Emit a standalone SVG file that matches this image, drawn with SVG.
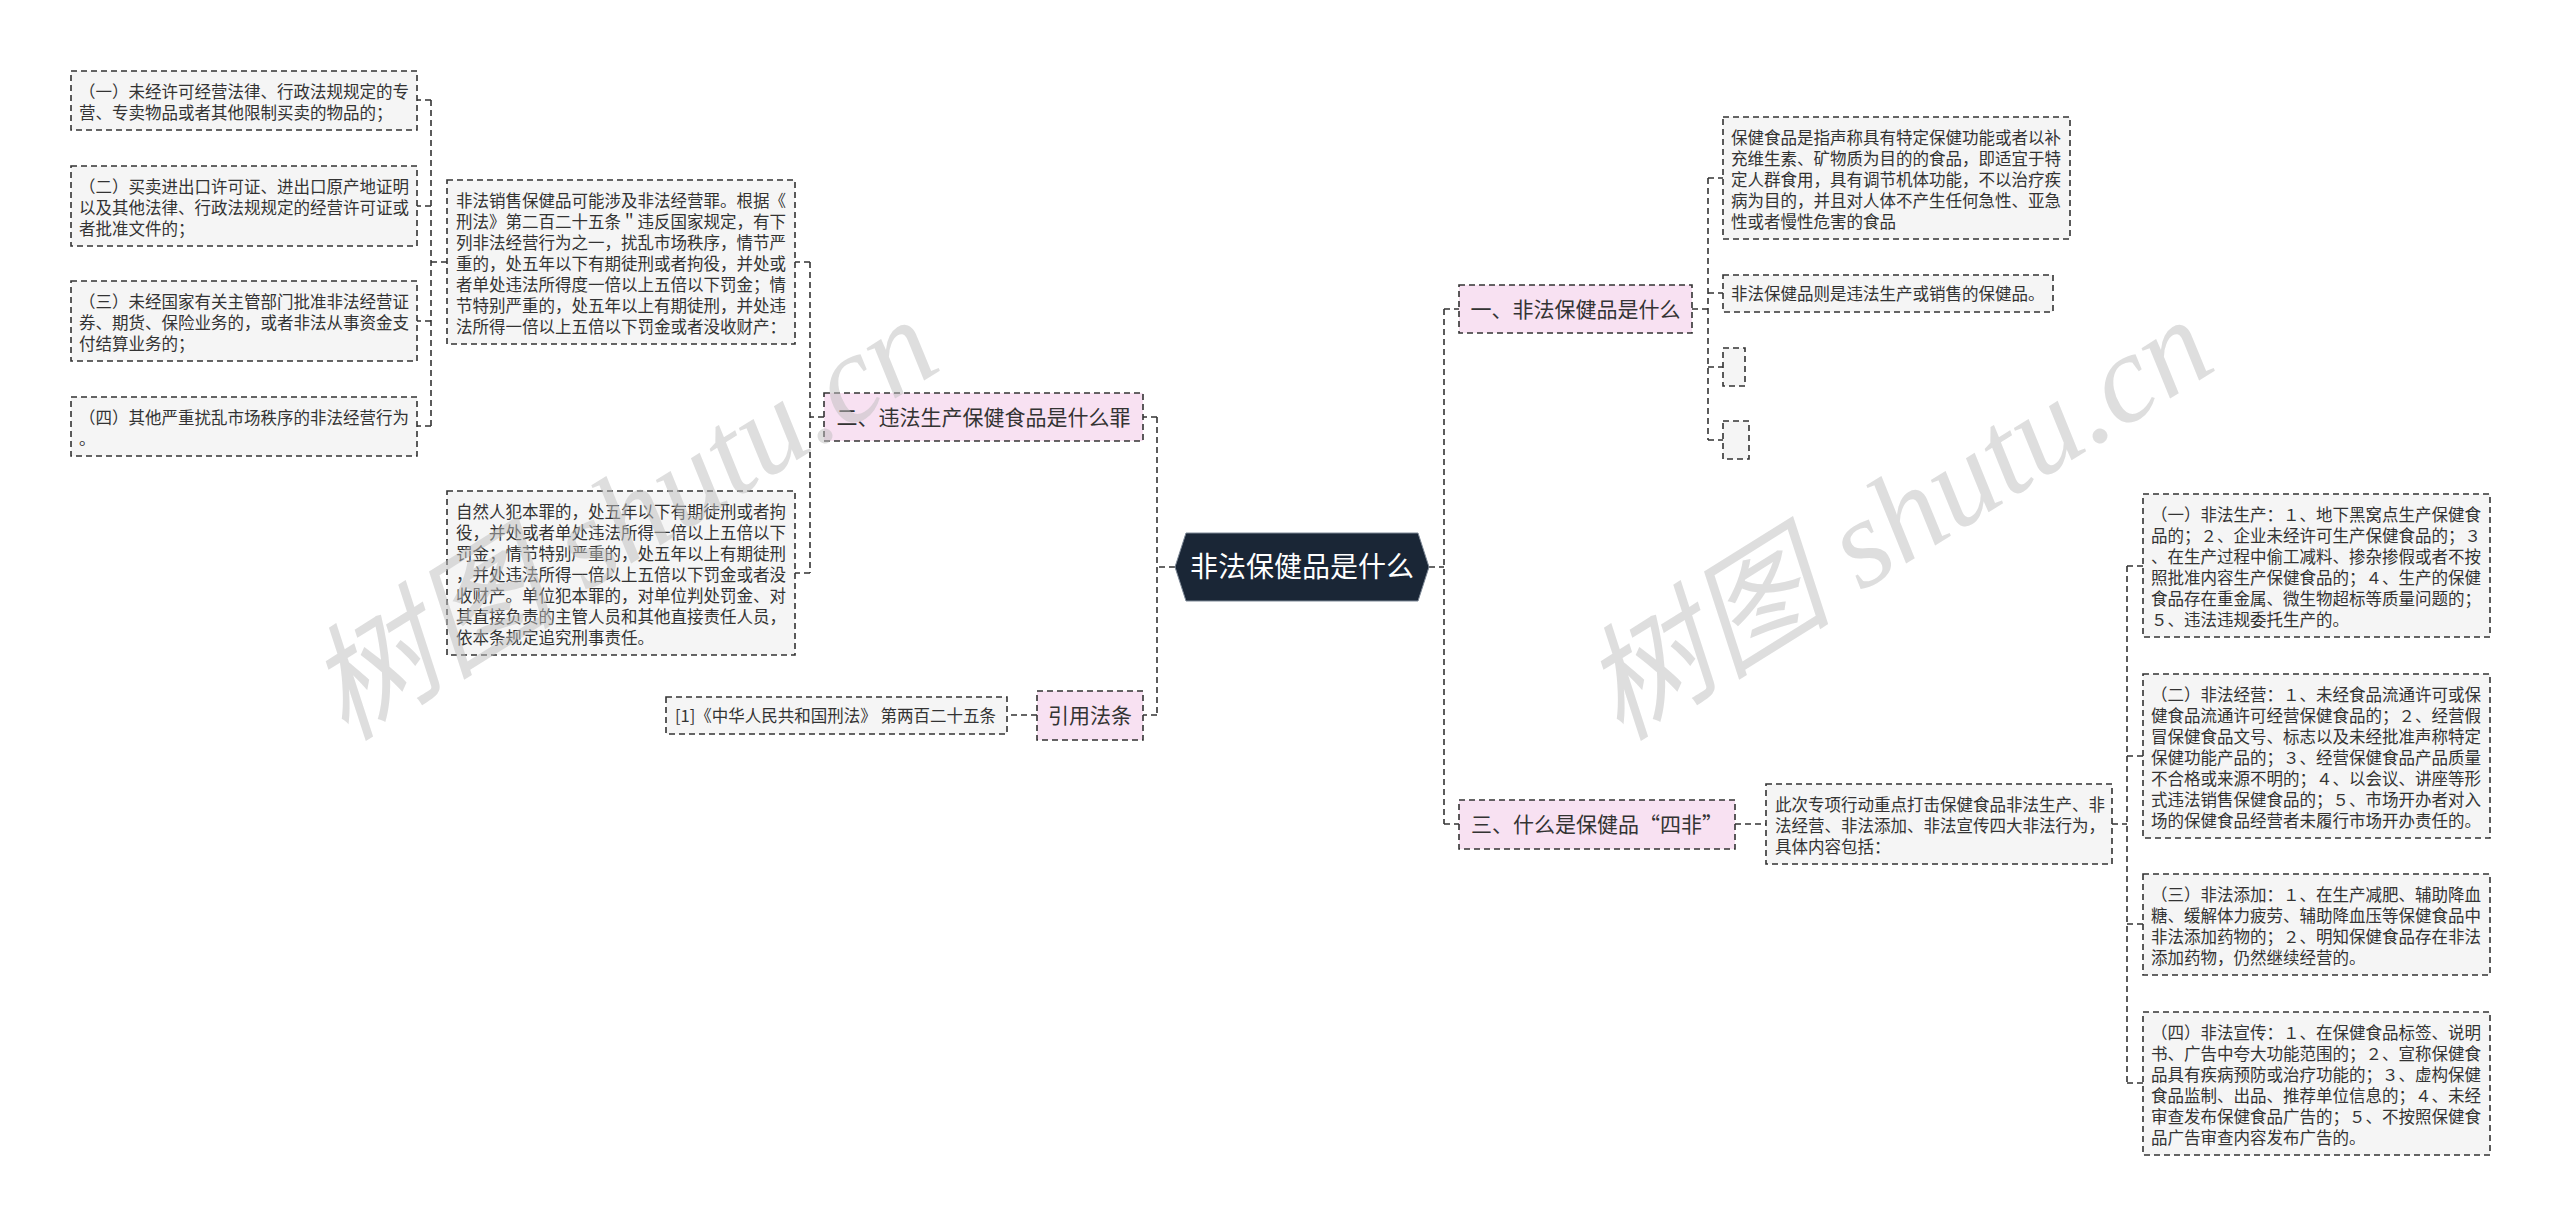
<svg xmlns="http://www.w3.org/2000/svg" width="2560" height="1225" viewBox="0 0 2560 1225">
<style>
.bg{fill:#ffffff}
.box{fill:#f5f5f5;stroke:#333333;stroke-width:1.6;stroke-dasharray:6 4}
.pink{fill:#f8e1f2;stroke:#333333;stroke-width:1.6;stroke-dasharray:6 4}
.t{font-family:"Noto Sans CJK SC","Noto Sans",sans-serif;font-size:16.5px;fill:#333333}
.b{font-family:"Noto Sans CJK SC","Noto Sans",sans-serif;font-size:21px;fill:#333333;text-anchor:middle}
.c{font-family:"Noto Sans CJK SC","Noto Sans",sans-serif;font-size:28px;fill:#ffffff;text-anchor:middle}
.con{fill:none;stroke:#333333;stroke-width:1.6;stroke-dasharray:6 4}
.wm{font-family:"Liberation Serif","Noto Sans CJK SC",serif;font-style:italic;font-size:126px;fill:#bdbdbd;fill-opacity:0.5;text-anchor:middle}
</style>
<rect class="bg" x="0" y="0" width="2560" height="1225"/>

<g id="connectors">
  <path class="con" d="M1175 567 H1157 M1157 417 V716 M1157 417 H1143 M1157 715 H1143"/>
  <path class="con" d="M824 417 H810 M810 262 V573 M810 262 H795 M810 573 H795"/>
  <path class="con" d="M447 262 H431 M431 100 V426 M431 100 H417 M431 206 H417 M431 321 H417 M431 426 H417"/>
  <path class="con" d="M1037 715 H1007"/>
  <path class="con" d="M1429 567 H1444 M1444 309 V824 M1444 309 H1459 M1444 824 H1459"/>
  <path class="con" d="M1692 309 H1708 M1708 178 V440 M1708 178 H1723 M1708 293 H1723 M1708 367 H1723 M1708 440 H1723"/>
  <path class="con" d="M1735 824 H1766"/>
  <path class="con" d="M2112 824 H2127 M2127 566 V1083 M2127 566 H2143 M2127 756 H2143 M2127 924 H2143 M2127 1083 H2143"/>
</g>

<g id="center">
  <polygon points="1175,567 1186,533 1418,533 1429,567 1418,601 1186,601" fill="#1a2636" stroke="#7d8896" stroke-width="1"/>
  <text class="c" x="1302" y="577">非法保健品是什么</text>
</g>

<g id="node-er">
  <rect class="pink" x="824" y="393" width="319" height="48"/>
  <text class="b" x="983.5" y="424.5">二、违法生产保健食品是什么罪</text>
</g>

<g id="node-yinyong">
  <rect class="pink" x="1037" y="691" width="106" height="49"/>
  <text class="b" x="1090" y="723">引用法条</text>
</g>

<g id="node-ref">
  <rect class="box" x="666" y="697" width="341" height="37"/>
  <text class="t" x="675" y="722">[1]《中华人民共和国刑法》 第两百二十五条</text>
</g>

<g id="node-feifa">
  <rect class="box" x="447" y="180" width="348" height="164"/>
  <text class="t">
    <tspan x="456" y="207">非法销售保健品可能涉及非法经营罪。根据《</tspan>
    <tspan x="456" y="228">刑法》第二百二十五条＂违反国家规定，有下</tspan>
    <tspan x="456" y="249">列非法经营行为之一，扰乱市场秩序，情节严</tspan>
    <tspan x="456" y="270">重的，处五年以下有期徒刑或者拘役，并处或</tspan>
    <tspan x="456" y="291">者单处违法所得度一倍以上五倍以下罚金；情</tspan>
    <tspan x="456" y="312">节特别严重的，处五年以上有期徒刑，并处违</tspan>
    <tspan x="456" y="333">法所得一倍以上五倍以下罚金或者没收财产：</tspan>
  </text>
</g>

<g id="node-ziran">
  <rect class="box" x="447" y="491" width="348" height="164"/>
  <text class="t">
    <tspan x="456" y="518">自然人犯本罪的，处五年以下有期徒刑或者拘</tspan>
    <tspan x="456" y="539">役，并处或者单处违法所得一倍以上五倍以下</tspan>
    <tspan x="456" y="560">罚金；情节特别严重的，处五年以上有期徒刑</tspan>
    <tspan x="456" y="581">，并处违法所得一倍以上五倍以下罚金或者没</tspan>
    <tspan x="456" y="602">收财产。单位犯本罪的，对单位判处罚金、对</tspan>
    <tspan x="456" y="623">其直接负责的主管人员和其他直接责任人员，</tspan>
    <tspan x="456" y="644">依本条规定追究刑事责任。</tspan>
  </text>
</g>

<g id="node-l1">
  <rect class="box" x="71" y="71" width="346" height="59"/>
  <text class="t">
    <tspan x="79" y="98">（一）未经许可经营法律、行政法规规定的专</tspan>
    <tspan x="79" y="119">营、专卖物品或者其他限制买卖的物品的；</tspan>
  </text>
</g>
<g id="node-l2">
  <rect class="box" x="71" y="166" width="346" height="80"/>
  <text class="t">
    <tspan x="79" y="193">（二）买卖进出口许可证、进出口原产地证明</tspan>
    <tspan x="79" y="214">以及其他法律、行政法规规定的经营许可证或</tspan>
    <tspan x="79" y="235">者批准文件的；</tspan>
  </text>
</g>
<g id="node-l3">
  <rect class="box" x="71" y="281" width="346" height="80"/>
  <text class="t">
    <tspan x="79" y="308">（三）未经国家有关主管部门批准非法经营证</tspan>
    <tspan x="79" y="329">券、期货、保险业务的，或者非法从事资金支</tspan>
    <tspan x="79" y="350">付结算业务的；</tspan>
  </text>
</g>
<g id="node-l4">
  <rect class="box" x="71" y="397" width="346" height="59"/>
  <text class="t">
    <tspan x="79" y="424">（四）其他严重扰乱市场秩序的非法经营行为</tspan>
    <tspan x="79" y="445">。</tspan>
  </text>
</g>

<g id="node-yi">
  <rect class="pink" x="1459" y="285" width="233" height="48"/>
  <text class="b" x="1575.5" y="316.5">一、非法保健品是什么</text>
</g>
<g id="node-baojian">
  <rect class="box" x="1723" y="117" width="347" height="122"/>
  <text class="t">
    <tspan x="1731" y="144">保健食品是指声称具有特定保健功能或者以补</tspan>
    <tspan x="1731" y="165">充维生素、矿物质为目的的食品，即适宜于特</tspan>
    <tspan x="1731" y="186">定人群食用，具有调节机体功能，不以治疗疾</tspan>
    <tspan x="1731" y="207">病为目的，并且对人体不产生任何急性、亚急</tspan>
    <tspan x="1731" y="228">性或者慢性危害的食品</tspan>
  </text>
</g>
<g id="node-zeshi">
  <rect class="box" x="1723" y="275" width="330" height="37"/>
  <text class="t" x="1731" y="300">非法保健品则是违法生产或销售的保健品。</text>
</g>
<g id="node-empty1">
  <rect class="box" x="1723" y="348" width="22" height="38"/>
</g>
<g id="node-empty2">
  <rect class="box" x="1723" y="421" width="26" height="38"/>
</g>

<g id="node-san">
  <rect class="pink" x="1459" y="800" width="276" height="49"/>
  <text class="b" x="1597" y="832">三、什么是保健品“四非”</text>
</g>
<g id="node-cici">
  <rect class="box" x="1766" y="784" width="346" height="80"/>
  <text class="t">
    <tspan x="1775" y="811">此次专项行动重点打击保健食品非法生产、非</tspan>
    <tspan x="1775" y="832">法经营、非法添加、非法宣传四大非法行为，</tspan>
    <tspan x="1775" y="853">具体内容包括：</tspan>
  </text>
</g>
<g id="node-r1">
  <rect class="box" x="2143" y="494" width="347" height="143"/>
  <text class="t">
    <tspan x="2151" y="521">（一）非法生产：１、地下黑窝点生产保健食</tspan>
    <tspan x="2151" y="542">品的；２、企业未经许可生产保健食品的；３</tspan>
    <tspan x="2151" y="563">、在生产过程中偷工减料、掺杂掺假或者不按</tspan>
    <tspan x="2151" y="584">照批准内容生产保健食品的；４、生产的保健</tspan>
    <tspan x="2151" y="605">食品存在重金属、微生物超标等质量问题的；</tspan>
    <tspan x="2151" y="626">５、违法违规委托生产的。</tspan>
  </text>
</g>
<g id="node-r2">
  <rect class="box" x="2143" y="674" width="347" height="164"/>
  <text class="t">
    <tspan x="2151" y="701">（二）非法经营：１、未经食品流通许可或保</tspan>
    <tspan x="2151" y="722">健食品流通许可经营保健食品的；２、经营假</tspan>
    <tspan x="2151" y="743">冒保健食品文号、标志以及未经批准声称特定</tspan>
    <tspan x="2151" y="764">保健功能产品的；３、经营保健食品产品质量</tspan>
    <tspan x="2151" y="785">不合格或来源不明的；４、以会议、讲座等形</tspan>
    <tspan x="2151" y="806">式违法销售保健食品的；５、市场开办者对入</tspan>
    <tspan x="2151" y="827">场的保健食品经营者未履行市场开办责任的。</tspan>
  </text>
</g>
<g id="node-r3">
  <rect class="box" x="2143" y="874" width="347" height="101"/>
  <text class="t">
    <tspan x="2151" y="901">（三）非法添加：１、在生产减肥、辅助降血</tspan>
    <tspan x="2151" y="922">糖、缓解体力疲劳、辅助降血压等保健食品中</tspan>
    <tspan x="2151" y="943">非法添加药物的；２、明知保健食品存在非法</tspan>
    <tspan x="2151" y="964">添加药物，仍然继续经营的。</tspan>
  </text>
</g>
<g id="node-r4">
  <rect class="box" x="2143" y="1012" width="347" height="143"/>
  <text class="t">
    <tspan x="2151" y="1039">（四）非法宣传：１、在保健食品标签、说明</tspan>
    <tspan x="2151" y="1060">书、广告中夸大功能范围的；２、宣称保健食</tspan>
    <tspan x="2151" y="1081">品具有疾病预防或治疗功能的；３、虚构保健</tspan>
    <tspan x="2151" y="1102">食品监制、出品、推荐单位信息的；４、未经</tspan>
    <tspan x="2151" y="1123">审查发布保健食品广告的；５、不按照保健食</tspan>
    <tspan x="2151" y="1144">品广告审查内容发布广告的。</tspan>
  </text>
</g>

<g id="watermarks">
  <text class="wm" transform="translate(645 555) rotate(-32)">树图 shutu.cn</text>
  <text class="wm" transform="translate(1920 555) rotate(-32)">树图 shutu.cn</text>
</g>
</svg>
